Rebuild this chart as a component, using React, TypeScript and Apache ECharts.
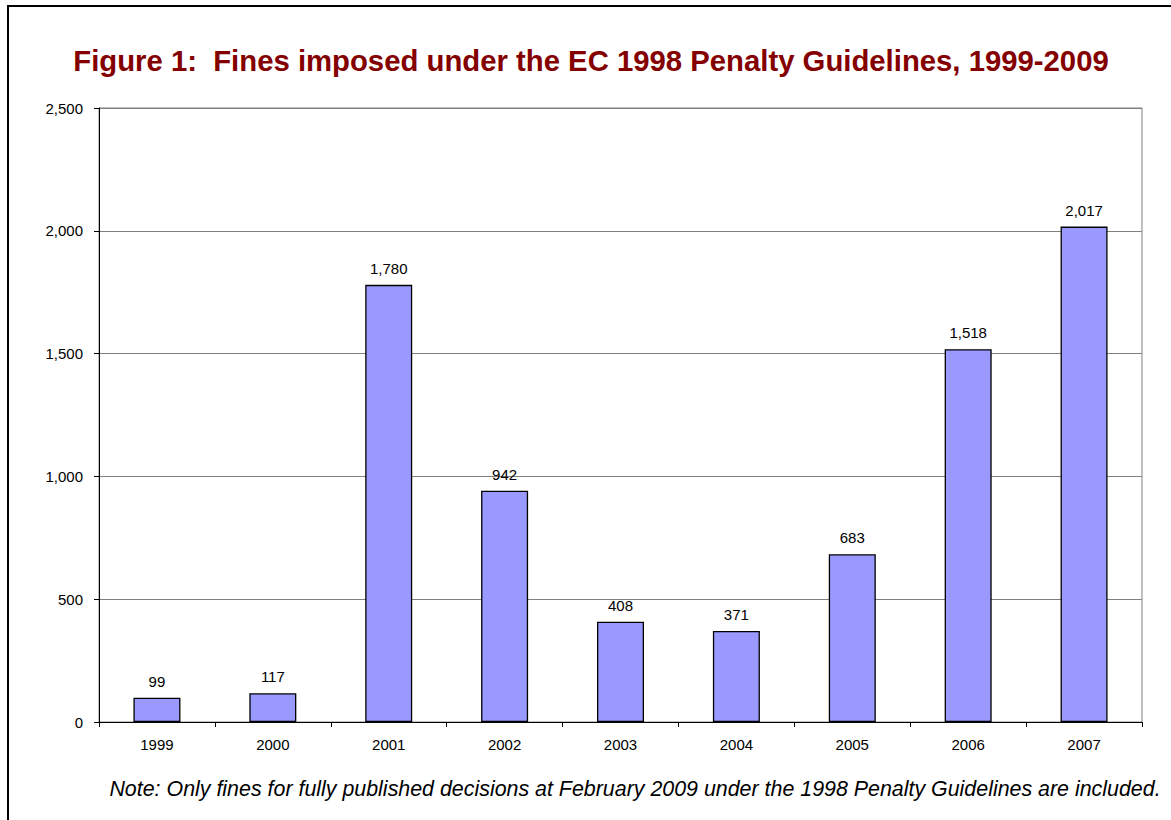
import React, { useEffect, useRef } from "react";
import * as echarts from "echarts";

const categories = ["1999", "2000", "2001", "2002", "2003", "2004", "2005", "2006", "2007"];
const fines = [99, 117, 1780, 942, 408, 371, 683, 1518, 2017];
const titleText = "Figure 1:  Fines imposed under the EC 1998 Penalty Guidelines, 1999-2009";
const noteText = "Note: Only fines for fully published decisions at February 2009 under the 1998 Penalty Guidelines are included.";

const fmt = (v: number) => v.toLocaleString("en-US");
const FONT = "Liberation Sans, Arial, sans-serif";

export default function App() {
  const ref = useRef<HTMLDivElement>(null);
  useEffect(() => {
    if (!ref.current) return;
    const chart = echarts.init(ref.current, null, { renderer: "svg" });
    chart.setOption({
      animation: false,
      backgroundColor: "#ffffff",
      graphic: [
        {
          type: "rect",
          shape: { x: 8, y: 6, width: 1200, height: 900 },
          style: { fill: "none", stroke: "#000", lineWidth: 2 },
          silent: true,
        },
        {
          type: "text",
          x: 591,
          y: 60,
          style: {
            text: titleText,
            fill: "#840000",
            font: "bold 29.3px 'Liberation Sans', Arial, sans-serif",
            textAlign: "center",
            textVerticalAlign: "middle",
          },
        },
        {
          type: "text",
          x: 635,
          y: 789,
          style: {
            text: noteText,
            fill: "#000",
            font: "italic 21.4px 'Liberation Sans', Arial, sans-serif",
            textAlign: "center",
            textVerticalAlign: "middle",
          },
        },
      ],
      grid: { left: 99, top: 108, right: 29, bottom: 98, show: true, borderColor: "#808080", borderWidth: 1 },
      xAxis: {
        type: "category",
        data: categories,
        axisLine: { lineStyle: { color: "#000", width: 1 } },
        axisTick: { show: true, length: 5, lineStyle: { color: "#000" } },
        axisLabel: { color: "#000", fontSize: 15, fontFamily: FONT, margin: 15 },
      },
      yAxis: {
        type: "value",
        min: 0,
        max: 2500,
        interval: 500,
        axisLine: { show: true, lineStyle: { color: "#000", width: 1 } },
        axisTick: { show: true, length: 5, lineStyle: { color: "#000" } },
        axisLabel: { color: "#000", fontSize: 15, fontFamily: FONT, margin: 16, formatter: (v: number) => fmt(v) },
        splitLine: { lineStyle: { color: "#808080", width: 1 } },
      },
      series: [
        {
          type: "bar",
          data: fines,
          barWidth: 47,
          itemStyle: { color: "#9999FF", borderColor: "#000", borderWidth: 1.3 },
          label: {
            show: true,
            position: "top",
            distance: 9,
            color: "#000",
            fontSize: 15,
            fontFamily: FONT,
            formatter: (p: any) => fmt(p.value),
          },
        },
      ],
    });
    return () => chart.dispose();
  }, []);
  return <div ref={ref} style={{ position: "absolute", left: 0, top: 0, width: 1171, height: 820 }} />;
}
